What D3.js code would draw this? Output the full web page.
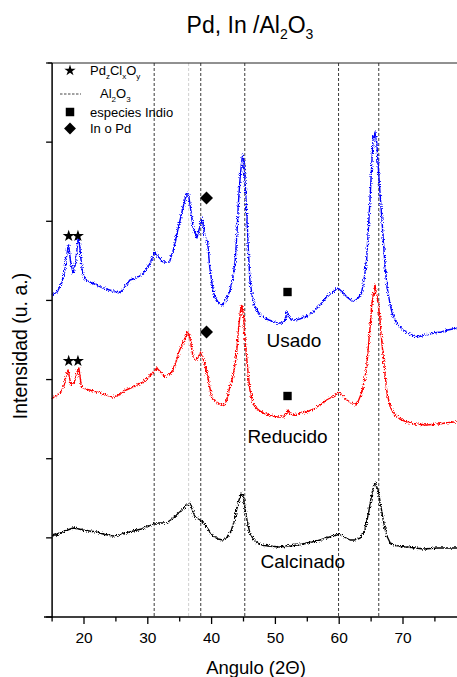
<!DOCTYPE html>
<html>
<head>
<meta charset="utf-8">
<script src="https://cdn.jsdelivr.net/npm/d3@7"></script>
<style>
html,body{margin:0;padding:0;background:#fff;}
svg{display:block;font-family:"Liberation Sans",Arial,sans-serif;}
</style>
</head>
<body>
<svg id="chart" width="457" height="677"></svg>
<script>
// ---------- DATA ----------
const titleText = "Pd, In /Al";
const xLabel = "Angulo (2Θ)";
const yLabel = "Intensidad (u. a.)";
const xTicksMajor = [20, 30, 40, 50, 60, 70];
const xTicksMinor = [15, 25, 35, 45, 55, 65, 75];
const refLines = [31.0, 38.3, 45.2, 59.9, 66.2];   // Al2O3 reference positions (dark)
const refLinesLight = [36.4];                      // light reference line

const usadoX = [15.0,15.8,16.5,17.0,17.4,17.6,17.9,18.3,18.7,19.05,19.2,19.5,19.8,20.3,20.9,22.0,23.0,24.0,25.0,25.6,26.3,27.2,28.2,29.2,30.2,31.1,31.7,32.4,33.4,34.0,34.7,35.5,36.1,36.4,36.8,37.1,37.7,38.1,38.5,38.9,39.4,39.7,40.1,40.5,41.0,41.6,42.3,42.9,43.4,43.7,44.0,44.2,44.5,44.8,44.95,45.2,45.5,45.8,46.0,46.4,46.8,47.4,48.0,49.0,50.2,51.0,51.5,51.8,52.1,52.5,53.2,53.8,55.0,55.9,57.0,58.0,59.0,59.8,60.5,61.2,62.2,63.0,63.5,64.0,64.3,64.8,65.1,65.3,65.6,65.9,66.2,66.7,67.1,67.5,68.0,68.3,69.0,70.0,71.0,72.2,73.5,74.7,76.0,77.0,78.6];
const usadoY = [322,325,334,347,367,372,355,344,355,377,380,359,344,337,335,332,329,327,325,324,329,337,339,343,352,365,360,355,355,367,387,409,424,422,404,389,379,389,399,382,374,350,332,320,315,312,317,327,342,357,387,414,442,460,462,442,404,362,337,320,310,304,300,297,294,294,296,305,301,297,297,298,301,305,312,320,325,329,325,320,315,319,324,342,357,414,452,477,485,474,442,397,359,330,312,304,294,287,283,280,282,284,285,287,289];

const reducidoX = [15.0,15.8,16.4,16.9,17.2,17.5,17.8,18.0,18.5,19.0,19.2,19.6,20.2,20.9,22.0,23.0,24.5,25.5,26.6,28.0,29.3,30.5,31.4,32.0,32.7,33.7,34.4,35.0,35.7,36.3,36.6,37.1,37.6,38.0,38.3,38.9,39.5,40.0,40.8,41.6,42.3,42.6,43.4,43.9,44.2,44.5,44.7,45.0,45.2,45.6,46.0,46.5,47.0,48.0,49.1,50.2,51.2,51.7,52.0,52.3,52.8,53.5,54.9,56.0,57.0,58.0,58.6,59.9,60.5,61.2,62.5,63.0,63.5,64.0,64.3,64.8,65.1,65.4,65.6,66.1,66.4,66.7,67.1,67.5,68.0,68.5,69.5,70.6,72.0,73.7,75.5,77.9,78.6];
const reducidoY = [219,221,225,232,242,247,237,232,235,247,249,230,228,227,225,223,220,222,227,231,235,242,249,245,240,244,255,267,277,285,279,260,257,261,265,254,237,220,215,212,214,224,242,262,287,305,312,302,280,252,227,214,209,204,202,200,200,203,207,203,202,203,205,208,212,217,219,224,221,217,212,216,224,237,250,287,312,325,332,314,297,274,247,224,210,204,198,195,193,192,193,195,195];

const calcinadoX = [15.0,16.0,17.0,18.3,19.2,19.8,20.8,21.9,23.0,24.5,26.0,27.7,29.0,30.2,31.1,32.0,32.9,33.8,34.5,35.5,36.3,36.6,37.0,37.4,38.2,38.7,39.2,40.2,41.0,41.8,42.5,43.1,43.6,43.9,44.3,44.7,45.0,45.2,45.6,46.0,46.6,47.6,49.0,50.7,52.0,53.5,54.9,56.5,58.0,59.0,59.9,60.8,61.7,62.5,63.3,64.0,64.6,65.0,65.4,65.6,66.1,66.5,66.9,67.4,68.0,69.0,70.6,72.0,73.2,75.5,77.9,78.6];
const calcinadoY = [81,83,86,89,88,87,86,85,83,81,83,86,88,91,94,94,94,98,102,108,113,114,107,100,97,94,90,81,78,77,80,87,97,107,117,124,120,110,95,84,77,72,71,70,71,72,74,76,79,81,83,80,77,77,79,87,104,119,131,134,127,112,97,82,74,71,70,69,68,69,69,69];

const seriesNames = ["Usado", "Reducido", "Calcinado"];
const seriesColors = ["#0000ff", "#ff0000", "#000000"];

// annotation markers (x in degrees, y in intensity units)
const starX = [17.6, 19.05];
const starY = [381, 256];          // Usado, Reducido
const diamondX = [39.2, 39.2];
const diamondY = [419, 285];
const squareX = [51.9, 51.9];
const squareY = [325, 221];
// series name labels
const labelX = [52.9, 51.9, 54.3];
const labelY = [270, 174, 49];

// ---------- CHART ----------
const svg = d3.select("#chart");
const W = 457, H = 677;
const plotTop = 63, plotBottom = 617, plotLeft = 52.1;
const x = d3.scaleLinear().domain([15, 80]).range([plotLeft, plotLeft + 65 * 6.38]);
const yMax = 554;
const y = d3.scaleLinear().domain([0, yMax]).range([plotBottom, plotTop]);
const yTicks = d3.range(0, 8).map(i => i * yMax / 7);

// rendering texture for the measured (noisy) traces
const defs = svg.append("defs");
const f = defs.append("filter").attr("id", "grain")
  .attr("x", "-5%").attr("y", "-5%").attr("width", "110%").attr("height", "110%");
f.append("feTurbulence").attr("type", "fractalNoise").attr("baseFrequency", "0.9")
  .attr("numOctaves", 1).attr("seed", 3).attr("result", "t");
f.append("feDisplacementMap").attr("in", "SourceGraphic").attr("in2", "t")
  .attr("scale", 5).attr("xChannelSelector", "R").attr("yChannelSelector", "G");

const g = svg.append("g");

// reference lines
g.selectAll("line.refL").data(refLinesLight).join("line")
  .attr("x1", d => x(d)).attr("x2", d => x(d))
  .attr("y1", plotTop).attr("y2", plotBottom)
  .attr("stroke", "#cfcfcf").attr("stroke-width", 1).attr("stroke-dasharray", "3,2");
g.selectAll("line.ref").data(refLines).join("line")
  .attr("x1", d => x(d)).attr("x2", d => x(d))
  .attr("y1", plotTop).attr("y2", plotBottom)
  .attr("stroke", "#3a3a3a").attr("stroke-width", 1).attr("stroke-dasharray", "3,2");

// curves
const allX = [usadoX, reducidoX, calcinadoX];
const allY = [usadoY, reducidoY, calcinadoY];
const line = d3.line().x(d => x(d[0])).y(d => y(d[1])).curve(d3.curveLinear);
const cg = g.append("g").attr("filter", "url(#grain)");
seriesNames.forEach((name, i) => {
  const pts = allX[i].map((xv, j) => [xv, allY[i][j]]);
  cg.append("path").datum(pts)
    .attr("d", line)
    .attr("fill", "none")
    .attr("stroke", seriesColors[i])
    .attr("stroke-width", 1.4)
    .attr("stroke-linejoin", "round");
});

// markers
const starSym = d3.symbol(d3.symbolStar).size(45);
const sqSym = d3.symbol(d3.symbolSquare);
starY.forEach(yv => {
  starX.forEach(xv => {
    g.append("path").attr("d", starSym()).attr("transform", `translate(${x(xv)},${y(yv)})`).attr("fill", "#000");
  });
});
diamondX.forEach((xv, i) => {
  g.append("path").attr("d", sqSym.size(84)()).attr("transform", `translate(${x(xv)},${y(diamondY[i])}) rotate(45)`).attr("fill", "#000");
});
squareX.forEach((xv, i) => {
  g.append("path").attr("d", sqSym.size(70)()).attr("transform", `translate(${x(xv)},${y(squareY[i])})`).attr("fill", "#000");
});

// series labels
seriesNames.forEach((name, i) => {
  g.append("text").attr("x", x(labelX[i])).attr("y", y(labelY[i]))
    .attr("text-anchor", "middle").attr("font-size", 19).attr("fill", "#000").text(name);
});

// legend
const lg = svg.append("g").attr("font-size", 13).attr("fill", "#000");
lg.append("path").attr("d", d3.symbol(d3.symbolStar).size(40)()).attr("transform", "translate(70,70.5)");
const t1 = lg.append("text").attr("x", 90).attr("y", 75);
t1.append("tspan").text("Pd");
t1.append("tspan").attr("font-size", 8).attr("dy", 4).text("z");
t1.append("tspan").attr("dy", -4).text("Cl");
t1.append("tspan").attr("font-size", 8).attr("dy", 4).text("x");
t1.append("tspan").attr("dy", -4).text("O");
t1.append("tspan").attr("font-size", 8).attr("dy", 4).text("y");
lg.append("line").attr("x1", 60).attr("x2", 81).attr("y1", 94).attr("y2", 94)
  .attr("stroke", "#444").attr("stroke-width", 1).attr("stroke-dasharray", "2.5,1.5");
const t2 = lg.append("text").attr("x", 100).attr("y", 97.5);
t2.append("tspan").text("Al");
t2.append("tspan").attr("font-size", 8).attr("dy", 4).text("2");
t2.append("tspan").attr("dy", -4).text("O");
t2.append("tspan").attr("font-size", 8).attr("dy", 4).text("3");
lg.append("path").attr("d", d3.symbol(d3.symbolSquare).size(72)()).attr("transform", "translate(70,112)");
lg.append("text").attr("x", 90).attr("y", 116.5).text("especies Indio");
lg.append("path").attr("d", d3.symbol(d3.symbolSquare).size(70)()).attr("transform", "translate(70,128.5) rotate(45)");
lg.append("text").attr("x", 90).attr("y", 133).text("In o Pd");

// axes
const ax = svg.append("g");
ax.append("line").attr("x1", 48).attr("x2", W).attr("y1", plotTop).attr("y2", plotTop)
  .attr("stroke", "#222").attr("stroke-width", 1);
ax.append("line").attr("x1", plotLeft).attr("x2", plotLeft).attr("y1", plotTop).attr("y2", plotBottom + 0.5)
  .attr("stroke", "#000").attr("stroke-width", 1.5);
ax.selectAll("line.yt").data(yTicks).join("line")
  .attr("x1", plotLeft - 6).attr("x2", plotLeft).attr("y1", d => y(d)).attr("y2", d => y(d))
  .attr("stroke", "#000").attr("stroke-width", 1.3);
ax.append("line").attr("x1", 44).attr("x2", W).attr("y1", plotBottom).attr("y2", plotBottom)
  .attr("stroke", "#000").attr("stroke-width", 1.5);
ax.selectAll("line.xt").data(xTicksMajor).join("line")
  .attr("x1", d => x(d)).attr("x2", d => x(d)).attr("y1", plotBottom).attr("y2", plotBottom + 7)
  .attr("stroke", "#000").attr("stroke-width", 1.3);
ax.selectAll("line.xm").data(xTicksMinor).join("line")
  .attr("x1", d => x(d)).attr("x2", d => x(d)).attr("y1", plotBottom).attr("y2", plotBottom + 4.5)
  .attr("stroke", "#000").attr("stroke-width", 1.3);
ax.selectAll("text.xl").data(xTicksMajor).join("text")
  .attr("x", d => x(d)).attr("y", 643).attr("text-anchor", "middle")
  .attr("font-size", 15.5).attr("fill", "#000").text(d => d);

// axis titles
svg.append("text").attr("x", 256).attr("y", 674).attr("text-anchor", "middle")
  .attr("font-size", 18.5).attr("fill", "#000").text(xLabel);
svg.append("text").attr("transform", "translate(26.5,346) rotate(-90)").attr("text-anchor", "middle")
  .attr("font-size", 19.5).attr("fill", "#000").text(yLabel);

// title
const tt = svg.append("text").attr("x", 250).attr("y", 33).attr("text-anchor", "middle")
  .attr("font-size", 23).attr("fill", "#000");
tt.append("tspan").text(titleText);
tt.append("tspan").attr("font-size", 14).attr("dy", 6).text("2");
tt.append("tspan").attr("dy", -6).text("O");
tt.append("tspan").attr("font-size", 14).attr("dy", 6).text("3");
</script>
</body>
</html>
